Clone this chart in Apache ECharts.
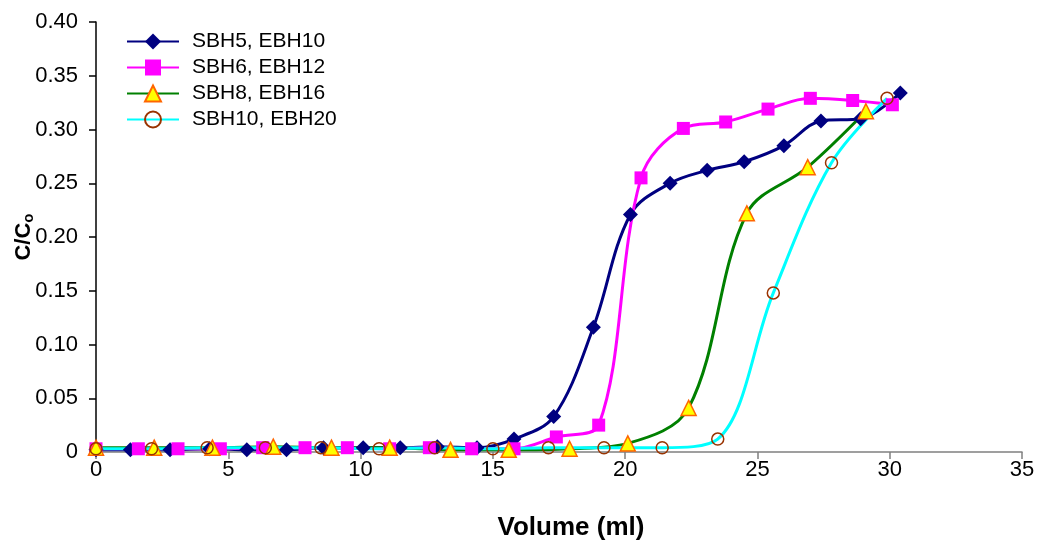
<html>
<head>
<meta charset="utf-8">
<title>ECharts</title>
</head>
<body style="margin:0">
<div id="main" style="width:1039px;height:542px;"></div>
<script src="https://cdn.jsdelivr.net/npm/echarts@6/dist/echarts.min.js"></script>
<script>
// volume (ml) vs C/Co
var seriesNames = ['SBH5, EBH10', 'SBH6, EBH12', 'SBH8, EBH16', 'SBH10, EBH20'];

var navyX = [0, 1.3, 2.8, 4.3, 5.7, 7.2, 8.6, 10.1, 11.5, 12.9, 14.4, 15.8, 17.3, 18.8, 20.2, 21.7, 23.1, 24.5, 26.0, 27.4, 28.9, 30.4];
var navyY = [0.002, 0.002, 0.002, 0.003, 0.002, 0.002, 0.004, 0.004, 0.004, 0.005, 0.004, 0.012, 0.033, 0.116, 0.221, 0.250, 0.262, 0.270, 0.285, 0.308, 0.310, 0.334];

var pinkX = [0, 1.6, 3.1, 4.7, 6.3, 7.9, 9.5, 11.1, 12.6, 14.2, 15.8, 17.4, 19.0, 20.6, 22.2, 23.8, 25.4, 27.0, 28.6, 30.1];
var pinkY = [0.003, 0.003, 0.003, 0.003, 0.004, 0.004, 0.004, 0.003, 0.004, 0.003, 0.003, 0.014, 0.025, 0.255, 0.301, 0.307, 0.319, 0.329, 0.327, 0.323];

var greenX = [0, 2.2, 4.4, 6.7, 8.9, 11.1, 13.4, 15.6, 17.9, 20.1, 22.4, 24.6, 26.9, 29.1];
var greenY = [0.004, 0.004, 0.004, 0.005, 0.004, 0.004, 0.002, 0.002, 0.003, 0.008, 0.041, 0.222, 0.265, 0.317];

var cyanX = [0, 2.1, 4.2, 6.4, 8.5, 10.7, 12.8, 15.0, 17.1, 19.2, 21.4, 23.5, 25.6, 27.8, 29.9];
var cyanY = [0.003, 0.003, 0.004, 0.004, 0.004, 0.003, 0.004, 0.003, 0.004, 0.004, 0.004, 0.012, 0.148, 0.269, 0.329];

function pairs(xs, ys) {
	var out = [];
	for (var i = 0; i < xs.length; i++) out.push([xs[i], ys[i]]);
	return out;
}

var chart = echarts.init(document.getElementById('main'));
var font = 'Liberation Sans, Arial, sans-serif';

var option = {
	animation: false,
	textStyle: {fontFamily: font},
	grid: {left: 96, right: 17, top: 22, bottom: 90, outerBoundsMode: 'none', containLabel: false},
	legend: {
		orient: 'vertical',
		left: 121,
		top: 26,
		itemWidth: 52,
		itemHeight: 20,
		itemGap: 5,
		textStyle: {fontSize: 21, lineHeight: 20, color: '#000', fontFamily: font, padding: [0, 0, 0, 8]},
		data: seriesNames
	},
	xAxis: {
		type: 'value',
		min: 0, max: 35, interval: 5,
		name: 'Volume (ml)',
		nameLocation: 'middle',
		nameGap: 63,
		nameMoveOverlap: false,
		nameTextStyle: {fontSize: 26, fontWeight: 'bold', color: '#000', padding: [0, 0, 0, 24]},
		axisLine: {lineStyle: {color: '#808080', width: 1.5}},
		axisTick: {lineStyle: {color: '#808080', width: 1.5}, length: 7},
		axisLabel: {fontSize: 22, color: '#000', margin: 7},
		splitLine: {show: false}
	},
	yAxis: {
		type: 'value',
		min: 0, max: 0.4, interval: 0.05,
		name: 'C/C{sub|o}',
		nameLocation: 'middle',
		nameGap: 60,
		nameMoveOverlap: false,
		nameTextStyle: {
			fontSize: 22, fontWeight: 'bold', color: '#000',
			rich: {sub: {fontSize: 15, fontWeight: 'bold', color: '#000', verticalAlign: 'bottom', padding: [10, 0, 0, 0]}}
		},
		axisLine: {show: true, lineStyle: {color: '#000', width: 1.5}},
		axisTick: {show: true, lineStyle: {color: '#000', width: 1.5}, length: 7},
		axisLabel: {
			fontSize: 22, color: '#000', margin: 18,
			formatter: function (v) { return v === 0 ? '0' : v.toFixed(2); }
		},
		splitLine: {show: false}
	},
	series: [
		{
			name: seriesNames[0], type: 'line', smooth: 0.35,
			data: pairs(navyX, navyY),
			symbol: 'diamond', symbolSize: 15,
			lineStyle: {color: '#000080', width: 3},
			itemStyle: {color: '#000080'}
		},
		{
			name: seriesNames[1], type: 'line', smooth: 0.35,
			data: pairs(pinkX, pinkY),
			symbol: 'rect', symbolSize: 13,
			lineStyle: {color: '#FF00FF', width: 3},
			itemStyle: {color: '#FF00FF'}
		},
		{
			name: seriesNames[2], type: 'line', smooth: 0.35,
			data: pairs(greenX, greenY),
			symbol: 'triangle', symbolSize: 15,
			lineStyle: {color: '#008000', width: 3},
			itemStyle: {color: '#FFFF00', borderColor: '#FF6600', borderWidth: 1.5}
		},
		{
			name: seriesNames[3], type: 'line', smooth: 0.35,
			data: pairs(cyanX, cyanY),
			symbol: 'circle', symbolSize: 12,
			lineStyle: {color: '#00FFFF', width: 3},
			itemStyle: {color: 'rgba(0,0,0,0)', borderColor: '#993300', borderWidth: 1.5}
		}
	]
};

chart.setOption(option);
</script>
</body>
</html>
